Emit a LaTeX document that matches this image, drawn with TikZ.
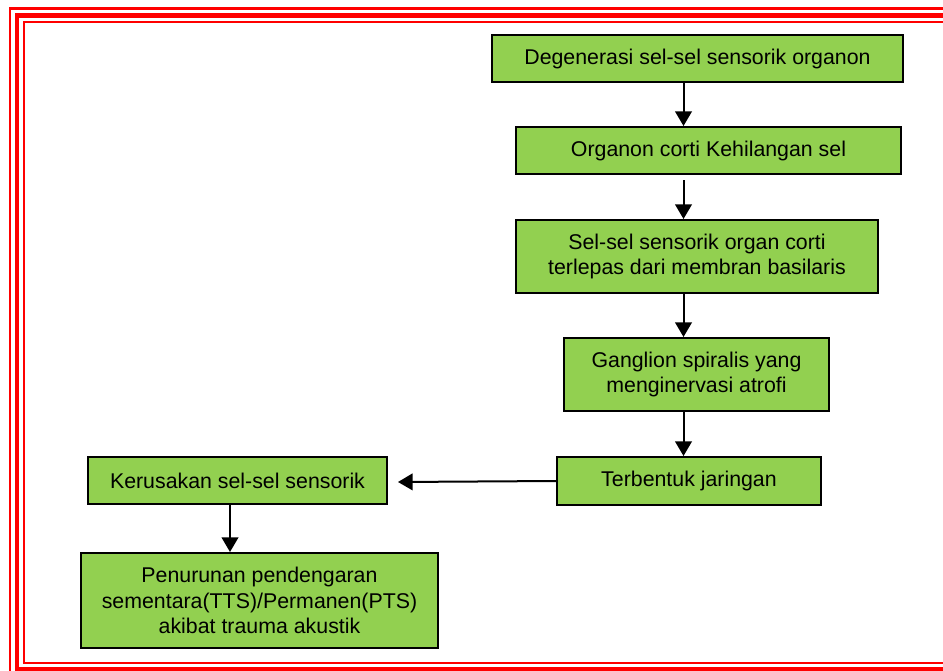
\documentclass[tikz,border=0pt]{standalone}
\usepackage{fontspec}
\setmainfont{Liberation Sans}
\usetikzlibrary{arrows.meta}
\definecolor{boxgreen}{HTML}{92D050}
\definecolor{framered}{HTML}{FF0000}
\begin{document}
\begin{tikzpicture}[x=0.75pt,y=-0.75pt,
  box/.style={draw=black, line width=1.5pt, fill=boxgreen, align=center,
    inner sep=0pt, font=\fontsize{16}{19}\selectfont},
  arr/.style={line width=1.5pt, -{Triangle[width=12.5pt,length=11pt]}},
  frame/.style={draw=framered}]
\useasboundingbox (0,0) rectangle (943,671);
% red triple frame (right and bottom parts run past the picture)
\draw[frame, line width=2.2pt] (10,8.5) rectangle (990,700);
\draw[frame, line width=3.6pt] (17,15.5) rectangle (980,669);
\draw[frame, line width=2pt] (24,22) rectangle (970,663);
% boxes
\node[box, minimum width=308.25pt, minimum height=35.25pt] (b1) at (697.5,58.5) {Degenerasi sel-sel sensorik organon};
\node[box, minimum width=288.75pt, minimum height=35.25pt] (b2) at (708.5,150.5) {Organon corti Kehilangan sel};
\node[box, minimum width=271.5pt, minimum height=54.75pt] (b3) at (697,256.5) {Sel-sel sensorik organ corti\\terlepas dari membran basilaris};
\node[box, minimum width=198.75pt, minimum height=54.75pt] (b4) at (696.5,374.5) {Ganglion spiralis yang\\menginervasi atrofi};
\node[box, minimum width=198pt, minimum height=36pt] (b5) at (689,481) {Terbentuk jaringan};
\node[box, minimum width=224.25pt, minimum height=35.25pt] (b6) at (237.5,480.5) {Kerusakan sel-sel sensorik};
\node[box, minimum width=267.75pt, minimum height=71.25pt] (b7) at (259.5,600.5) {Penurunan pendengaran\\sementara(TTS)/Permanen(PTS)\\akibat trauma akustik};
% connectors
\coordinate (col) at (683.5,0);
\coordinate (col2) at (230,0);
\coordinate (a2s) at (683.5,180);
\coordinate (a5e) at (398,482);
\draw[arr] (col |- b1.south) -- (col |- b2.north);
\draw[arr] (a2s) -- (col |- b3.north);
\draw[arr] (col |- b3.south) -- (col |- b4.north);
\draw[arr] (col |- b4.south) -- (col |- b5.north);
\draw[arr] (b5.west) -- (a5e);
\draw[arr] (col2 |- b6.south) -- (col2 |- b7.north);
\end{tikzpicture}
\end{document}
